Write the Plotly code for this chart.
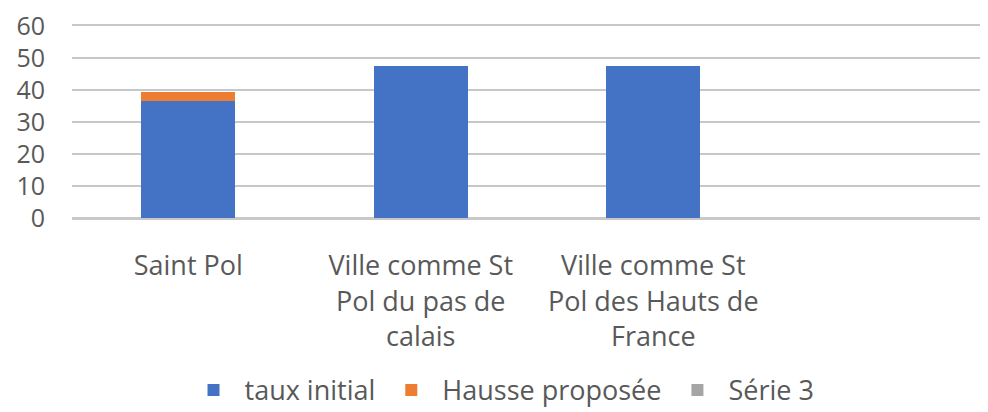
import plotly.graph_objects as go

categories = ["Saint Pol", "Ville comme St<br>Pol du pas de<br>calais", "Ville comme St<br>Pol des Hauts de<br>France", " "]
taux_initial = [36.7, 47.5, 47.5, None]
hausse_proposee = [2.8, None, None, None]
serie_3 = [None, None, None, None]
y_ticks = [0, 10, 20, 30, 40, 50, 60]

FONT = "Open Sans"
GREY = "#595959"
GRID = "#C8C8C8"

fig = go.Figure()
fig.add_trace(go.Bar(name="taux initial", x=categories, y=taux_initial, marker=dict(color="#4472C4", line=dict(width=0))))
fig.add_trace(go.Bar(name="Hausse proposée", x=categories, y=hausse_proposee, marker=dict(color="#ED7D31", line=dict(width=0))))
fig.add_trace(go.Bar(name="Série 3", x=categories, y=serie_3, marker=dict(color="#A5A5A5", line=dict(width=0))))

fig.update_layout(
    width=988, height=412,
    barmode="stack", bargap=0.596,
    plot_bgcolor="white", paper_bgcolor="white",
    margin=dict(l=64, r=0, t=18, b=202, autoexpand=False),
    font=dict(family=FONT, color=GREY),
    showlegend=True,
    legend=dict(orientation="h", x=0.499, xanchor="center", xref="container",
                y=0.072, yanchor="middle", yref="container",
                font=dict(size=27, color=GREY, family=FONT),
                itemsizing="constant", traceorder="normal", itemwidth=52),
    xaxis=dict(type="category", range=[-0.5, 3.474], showgrid=False, zeroline=False,
               showline=True, mirror=True, linecolor=GRID, linewidth=2,
               automargin=False,
               tickfont=dict(size=27, color=GREY, family=FONT),
               ticks="outside", ticklen=23, tickcolor="rgba(0,0,0,0)"),
    yaxis=dict(range=[0, 60], tickvals=y_ticks, showgrid=True, gridcolor=GRID, gridwidth=2,
               automargin=False, ticklabeloverflow="allow",
               zeroline=True, zerolinecolor=GRID, zerolinewidth=2,
               tickfont=dict(size=25, color=GREY, family=FONT),
               ticks="outside", ticklen=21, tickcolor="rgba(0,0,0,0)"),
)

fig.write_html("out.html")
